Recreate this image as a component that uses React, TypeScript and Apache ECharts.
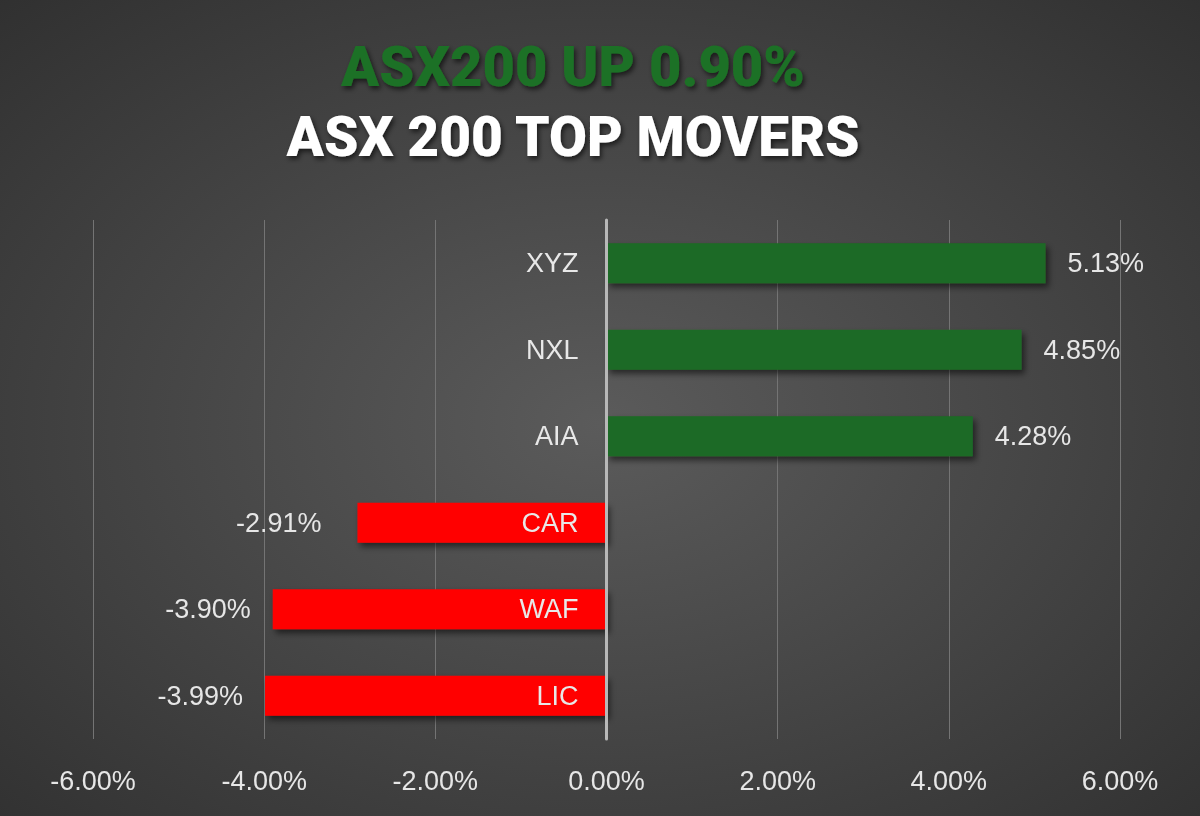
import React, { useEffect, useRef } from "react";
import * as echarts from "echarts";

const categories = ["XYZ", "NXL", "AIA", "CAR", "WAF", "LIC"];
const changes = [5.13, 4.85, 4.28, -2.91, -3.9, -3.99];
const axisMin = -6;
const axisMax = 6;
const axisStep = 2;
const headline = "ASX200 UP 0.90%";
const subtitle = "ASX 200 TOP MOVERS";

export default function App() {
  const ref = useRef<HTMLDivElement>(null);
  useEffect(() => {
    if (!ref.current) return;
    const chart = echarts.init(ref.current, undefined, { renderer: "svg" });
    const labelFont = "'Liberation Sans', Arial, sans-serif";
    const gridLeft = 93;
    const gridRight = 80;
    const plotWidth = 1200 - gridLeft - gridRight;
    const zeroOffset = -(plotWidth * (0 - axisMin)) / (axisMax - axisMin);
    chart.setOption({
      animation: false,
      backgroundColor: {
        type: "radial",
        x: 0.5,
        y: 0.52,
        r: 0.9,
        colorStops: [
          { offset: 0, color: "#5b5b5b" },
          { offset: 1, color: "#262626" },
        ],
      },
      title: [
        {
          text: headline,
          left: 568,
          top: 34,
          textAlign: "center",
          textStyle: {
            color: "#1d7125",
            fontFamily: "Roboto, 'Open Sans', sans-serif",
            fontWeight: 900,
            fontSize: 56,
            textShadowColor: "rgba(0,0,0,0.6)",
            textShadowBlur: 5,
            textShadowOffsetX: 2,
            textShadowOffsetY: 3,
          },
        },
        {
          text: subtitle,
          left: 568,
          top: 104,
          textAlign: "center",
          textStyle: {
            color: "#ffffff",
            fontFamily: "Roboto, 'Open Sans', sans-serif",
            fontWeight: 900,
            fontSize: 55,
            textShadowColor: "rgba(0,0,0,0.6)",
            textShadowBlur: 5,
            textShadowOffsetX: 2,
            textShadowOffsetY: 3,
          },
        },
      ],
      grid: { left: gridLeft, right: gridRight, top: 220, bottom: 77, containLabel: false },
      xAxis: {
        type: "value",
        min: axisMin,
        max: axisMax,
        interval: axisStep,
        axisLine: { show: false },
        axisTick: { show: false },
        splitLine: { show: true, lineStyle: { color: "#747474", width: 1 } },
        axisLabel: {
          margin: 28,
          color: "#e6e6e6",
          fontFamily: labelFont,
          fontSize: 27,
          formatter: (v: number) => v.toFixed(2) + "%",
        },
      },
      yAxis: {
        type: "category",
        data: categories,
        inverse: true,
        position: "left",
        offset: zeroOffset,
        z: 10,
        axisLine: { show: true, onZero: false, lineStyle: { color: "#b8b8b8", width: 3 } },
        axisTick: { show: false },
        axisLabel: {
          margin: 28,
          color: "#e8e8e8",
          fontFamily: labelFont,
          fontSize: 27,
        },
      },
      series: [
        {
          type: "bar",
          z: 2,
          data: changes.map((v, i) => ({
            value: v,
            itemStyle: { color: v >= 0 ? "#1d6b25" : "#ff0000" },
            label: { position: v >= 0 ? "right" : "left", distance: categories[i] === "CAR" ? 36 : 22 },
          })),
          barWidth: "46%",
          itemStyle: {
            shadowColor: "rgba(0,0,0,0.55)",
            shadowBlur: 6,
            shadowOffsetX: 3,
            shadowOffsetY: 4,
          },
          label: {
            show: true,
            distance: 22,
            color: "#e6e6e6",
            fontFamily: labelFont,
            fontSize: 27,
            formatter: (p: any) => Number(p.value).toFixed(2) + "%",
          },
        },
      ],
    });
    return () => chart.dispose();
  }, []);
  return (
    <div
      ref={ref}
      style={{ position: "fixed", left: 0, top: 0, width: 1200, height: 816 }}
    />
  );
}
